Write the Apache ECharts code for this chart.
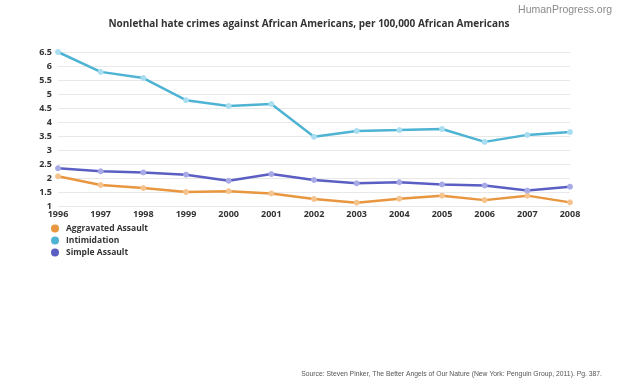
<!DOCTYPE html>
<html><head><meta charset="utf-8">
<script src="https://cdn.jsdelivr.net/npm/echarts@6/dist/echarts.min.js"></script>
<style>html,body{margin:0;padding:0;background:#fff}#c{width:624px;height:386px}</style>
</head><body><div id="c"></div>
<script>
const years = ['1996','1997','1998','1999','2000','2001','2002','2003','2004','2005','2006','2007','2008'];
const aggravated = [2.06,1.75,1.64,1.5,1.53,1.45,1.25,1.12,1.26,1.37,1.21,1.37,1.13];
const intimidation = [6.5,5.79,5.57,4.78,4.57,4.64,3.47,3.68,3.71,3.75,3.29,3.54,3.64];
const simple = [2.35,2.24,2.2,2.12,1.9,2.14,1.93,1.81,1.85,1.77,1.73,1.55,1.69];
const yTicks = {min:1, max:6.5, interval:0.5};

const chart = echarts.init(document.getElementById('c'));
function ser(name, data, color, light){
  return {name, type:'line', data, symbol:'circle', symbolSize:5, showSymbol:true,
    lineStyle:{color, width:2.5}, itemStyle:{color:light, borderColor:light}, z: 3};
}
chart.setOption({
  animation:false,
  graphic:[
    {type:'text', right:12, top:5, style:{text:'HumanProgress.org', fill:'#8a8a8a', fontSize:10.5, fontFamily:'Liberation Sans, Arial, sans-serif'}},
    {type:'text', right:22, top:371, style:{text:'Source: Steven Pinker, The Better Angels of Our Nature (New York: Penguin Group, 2011). Pg. 387.', fill:'#555', fontSize:6.8, fontFamily:'Liberation Sans, Arial, sans-serif'}}
  ],
  title:{text:'Nonlethal hate crimes against African Americans, per 100,000 African Americans', left:304, textAlign:'center', top:14,
    textStyle:{fontSize:10, fontWeight:'bold', color:'#333', fontFamily:'Open Sans'}},
  legend:{orient:'vertical', left:46, top:219, itemGap:3, icon:'circle', itemWidth:8, itemHeight:8,
    textStyle:{fontSize:8.5, fontWeight:'bold', color:'#333', fontFamily:'Open Sans', padding:[0,0,0,2]},
    data:[
      {name:'Aggravated Assault', itemStyle:{color:'#e8963f'}},
      {name:'Intimidation', itemStyle:{color:'#4fb3d4'}},
      {name:'Simple Assault', itemStyle:{color:'#5b5fc4'}}
    ]},
  grid:{left:58, right:54, top:52, bottom:180},
  xAxis:{type:'category', data:years, boundaryGap:false,
    axisLine:{show:false}, axisTick:{show:false},
    axisLabel:{fontSize:9, fontWeight:'bold', color:'#333', fontFamily:'Open Sans', margin:4, showMaxLabel:true, showMinLabel:true}},
  yAxis:{type:'value', min:yTicks.min, max:yTicks.max, interval:yTicks.interval,
    axisLine:{show:false}, axisTick:{show:false},
    axisLabel:{fontSize:9, color:'#333', fontWeight:'bold', fontFamily:'Open Sans', margin:6},
    splitLine:{lineStyle:{color:'#e8e8e8', width:1}}},
  series:[
    ser('Aggravated Assault', aggravated, '#e8963f', '#f5c48e'),
    ser('Intimidation', intimidation, '#4fb3d4', '#a9def0'),
    ser('Simple Assault', simple, '#5b5fc4', '#a7aae6')
  ]
});
</script></body></html>
